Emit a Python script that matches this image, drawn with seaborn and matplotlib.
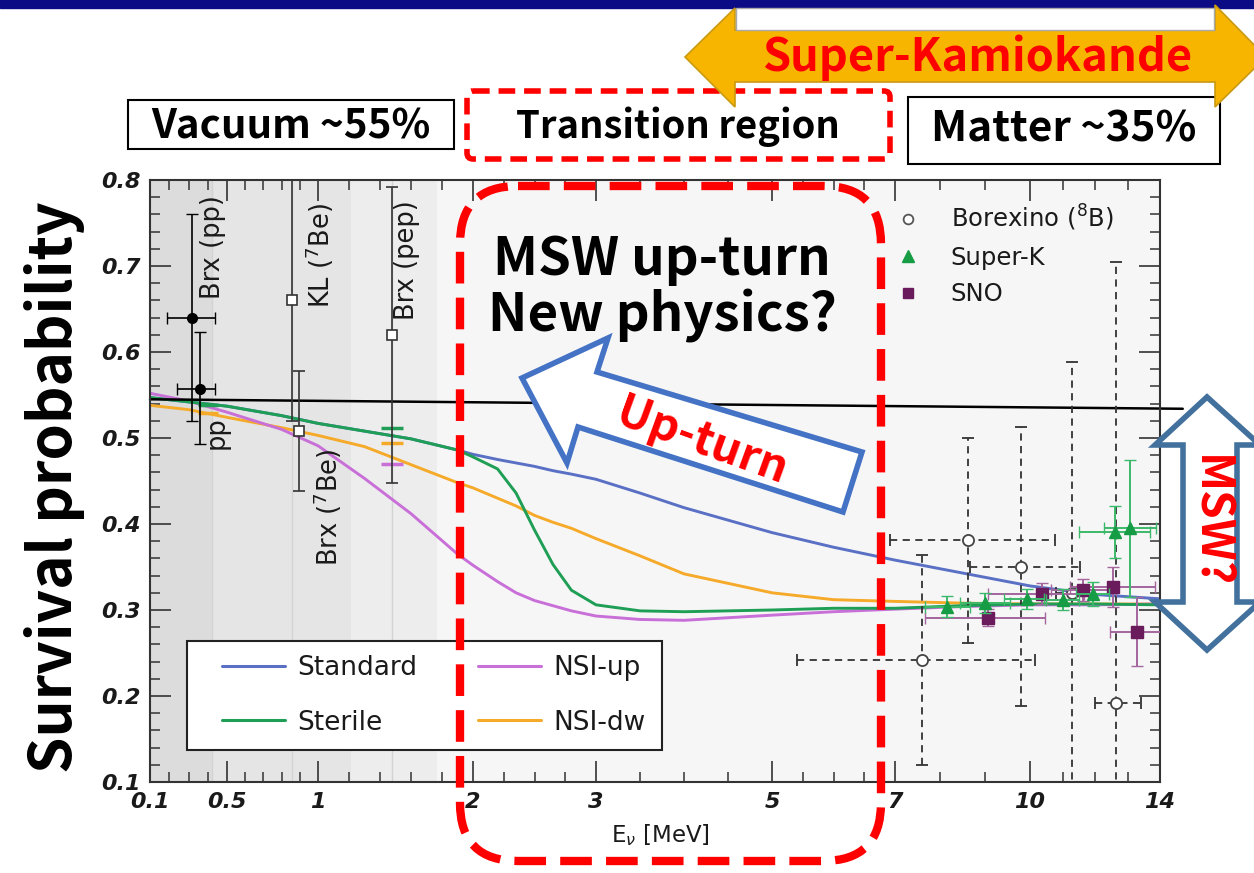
import numpy as np
import pandas as pd
import matplotlib
matplotlib.use("Agg")
import matplotlib.pyplot as plt
import seaborn as sns
from matplotlib.patches import Rectangle, FancyBboxPatch, Polygon
from matplotlib.lines import Line2D
from matplotlib.transforms import Affine2D

# ------------------------------------------------------------------ data
energy = [0.1, 0.3, 0.5, 0.8, 1.0, 1.3, 1.6, 1.9, 2.0, 2.2, 2.35, 2.5, 2.65,
          2.8, 3.0, 3.5, 4.0, 5.0, 6.0, 7.0, 8.5, 10.0, 12.0, 14.0]
standard = [0.547, 0.542, 0.537, 0.526, 0.517, 0.508, 0.499, 0.486, 0.481, 0.475,
            0.471, 0.467, 0.462, 0.458, 0.452, 0.436, 0.419, 0.390, 0.373, 0.358,
            0.343, 0.328, 0.318, 0.313]
sterile = [0.547, 0.542, 0.537, 0.526, 0.517, 0.508, 0.499, 0.486, 0.478, 0.464,
           0.436, 0.393, 0.353, 0.323, 0.306, 0.299, 0.298, 0.300, 0.302, 0.302,
           0.305, 0.307, 0.307, 0.306]
nsi_up = [0.552, 0.543, 0.530, 0.510, 0.491, 0.453, 0.412, 0.365, 0.352, 0.333,
          0.320, 0.311, 0.305, 0.299, 0.293, 0.289, 0.288, 0.294, 0.298, 0.301,
          0.304, 0.306, 0.306, 0.307]
nsi_dw = [0.538, 0.533, 0.524, 0.512, 0.503, 0.490, 0.469, 0.448, 0.442, 0.430,
          0.421, 0.410, 0.402, 0.395, 0.383, 0.363, 0.342, 0.320, 0.312, 0.310,
          0.308, 0.307, 0.307, 0.307]
models = ["Standard", "Sterile", "NSI-up", "NSI-dw"]

vacuum_E = [0.1, 14.7]
vacuum_P = [0.545, 0.534]

# Borexino pp (filled black)
pp_E = [0.32, 0.36]
pp_P = [0.640, 0.557]
pp_Elo = [0.19, 0.24]
pp_Ehi = [0.44, 0.44]
pp_Plo = [0.520, 0.493]
pp_Phi = [0.761, 0.623]

# open squares: KL(7Be), Brx(7Be), Brx(pep)
sq_E = [0.855, 0.895, 1.48]
sq_P = [0.660, 0.508, 0.620]
sq_Plo = [0.520, 0.438, 0.448]
sq_Phi = [0.820, 0.578, 0.792]

# model predictions at pp and pep
pp_pred_E = 0.40
pp_pred = {"Sterile": 0.538, "NSI-dw": 0.529}
pep_pred_E = 1.48
pep_pred = {"Sterile": 0.512, "NSI-dw": 0.494, "NSI-up": 0.470}

# Borexino 8B
b8_E = [7.59, 8.63, 9.80, 11.30, 12.65]
b8_P = [0.242, 0.381, 0.350, 0.320, 0.192]
b8_Elo = [5.41, 6.92, 8.67, 10.80, 12.00]
b8_Ehi = [10.15, 10.77, 11.54, 11.80, 13.40]
b8_Plo = [0.120, 0.262, 0.188, 0.000, 0.000]
b8_Phi = [0.364, 0.500, 0.513, 0.588, 0.705]

# Super-K
sk_E = [8.16, 9.00, 9.93, 11.00, 11.93, 12.60, 13.08]
sk_P = [0.304, 0.308, 0.313, 0.312, 0.319, 0.391, 0.395]
sk_Eerr = [0.50, 0.55, 0.50, 0.50, 0.50, 1.10, 0.80]
sk_Perr = [0.012, 0.012, 0.012, 0.012, 0.014, 0.030, 0.080]

# SNO
sno_E = [9.07, 10.36, 11.64, 12.54, 13.30]
sno_P = [0.291, 0.319, 0.323, 0.327, 0.275]
sno_Eerr = [1.40, 1.30, 1.00, 1.30, 0.85]
sno_Perr = [0.010, 0.012, 0.013, 0.023, 0.040]

x_ticks = [0.1, 0.5, 1, 2, 3, 5, 7, 10, 14]
x_ticklabels = ["0.1", "0.5", "1", "2", "3", "5", "7", "10", "14"]
x_minor = [0.2, 0.3, 0.4, 0.6, 0.7, 0.8, 0.9, 1.2, 1.4, 1.6, 1.8, 2.25, 2.5, 2.75,
           3.5, 4, 4.5, 5.5, 6, 6.5, 8, 9, 11, 12, 13]
y_ticks = [0.1, 0.2, 0.3, 0.4, 0.5, 0.6, 0.7, 0.8]

# ------------------------------------------------------------------ style
sns.set_theme(style="ticks")
plt.rcParams["font.family"] = ["DejaVu Sans"]
plt.rcParams["mathtext.fontset"] = "dejavusans"

C_STD = "#5a70c4"
C_STER = "#1f9e55"
C_UP = "#c86fd8"
C_DW = "#f5aa2a"
palette = {"Standard": C_STD, "Sterile": C_STER, "NSI-up": C_UP, "NSI-dw": C_DW}
RED = "#ff0000"
SLIDE = "Noto Sans CJK KR"

fig = plt.figure(figsize=(12.54, 8.73), dpi=100)
fig.patch.set_facecolor("white")
# pixel transform (origin top-left of the image)
T = Affine2D().scale(1 / 1254, -1 / 873).translate(0, 1) + fig.transFigure

ax = fig.add_axes([150 / 1254, 91 / 873, 1010 / 1254, 602 / 873])
ax.set_facecolor("#f7f6f7")

# custom non-uniform energy axis
E_KNOTS = np.array(x_ticks, float)
PX_KNOTS = np.array([0, 77, 168, 323, 446, 622, 745, 880, 1010], float)


def _pw(x, xs, ys):
    x = np.asarray(x, float)
    y = np.interp(x, xs, ys)
    s0 = (ys[1] - ys[0]) / (xs[1] - xs[0])
    s1 = (ys[-1] - ys[-2]) / (xs[-1] - xs[-2])
    y = np.where(x < xs[0], ys[0] + (x - xs[0]) * s0, y)
    y = np.where(x > xs[-1], ys[-1] + (x - xs[-1]) * s1, y)
    return y


ax.set_xscale("function", functions=(lambda x: _pw(x, E_KNOTS, PX_KNOTS),
                                     lambda p: _pw(p, PX_KNOTS, E_KNOTS)))
ax.set_xlim(0.1, 14)
ax.set_ylim(0.1, 0.8)

# background bands
ax.axvspan(0.1, 0.42, color="#dcdcdc", lw=0, zorder=0)
ax.axvspan(0.42, 1.21, color="#e6e5e6", lw=0, zorder=0)
ax.axvspan(1.21, 1.77, color="#eeedee", lw=0, zorder=0)
for e in [0.42, sq_E[0], pep_pred_E]:
    ax.axvline(e, color="#d3d3d3", lw=1, zorder=0.5)

# theory curves
df = pd.DataFrame({
    "E": energy * 4,
    "P": standard + sterile + nsi_up + nsi_dw,
    "model": sum([[m] * len(energy) for m in models], []),
})
sns.lineplot(data=df, x="E", y="P", hue="model",
             hue_order=["Standard", "NSI-dw", "NSI-up", "Sterile"],
             palette=palette, estimator=None, sort=False, lw=2.1,
             legend=False, ax=ax, zorder=2)

ax.plot(vacuum_E, vacuum_P, color="black", lw=1.8, clip_on=False, zorder=2.5)

# model predictions at pp / pep
for m, v in pp_pred.items():
    ax.plot([pp_pred_E], [v], marker="_", ms=14, mew=2.5, color=palette[m], zorder=3)
for m, v in pep_pred.items():
    ax.plot([pep_pred_E], [v], marker="_", ms=16, mew=2.5, color=palette[m], zorder=3)

# Borexino pp points
pp_E_a = np.array(pp_E); pp_P_a = np.array(pp_P)
ax.errorbar(pp_E, pp_P,
            xerr=[pp_E_a - np.array(pp_Elo), np.array(pp_Ehi) - pp_E_a],
            yerr=[pp_P_a - np.array(pp_Plo), np.array(pp_Phi) - pp_P_a],
            fmt="o", color="black", ms=7, elinewidth=1.2, capsize=4, zorder=4)
# open squares
sq_P_a = np.array(sq_P)
ax.errorbar(sq_E, sq_P,
            yerr=[sq_P_a - np.array(sq_Plo), np.array(sq_Phi) - sq_P_a],
            fmt="s", mfc="white", mec="#333333", mew=1.2, ms=6.5, ecolor="#333333",
            elinewidth=1.2, capsize=4, zorder=4)

# Borexino 8B (dashed)
b8E = np.array(b8_E); b8P = np.array(b8_P)
eb = ax.errorbar(b8_E, b8_P,
                 xerr=[b8E - np.array(b8_Elo), np.array(b8_Ehi) - b8E],
                 yerr=[b8P - np.array(b8_Plo), np.array(b8_Phi) - b8P],
                 fmt="o", mfc="white", mec="#444444", mew=1.3, ms=8,
                 ecolor="#333333", elinewidth=1.3, capsize=4, zorder=3)
for lc in eb.lines[2]:
    lc.set_linestyle((0, (4, 3)))

# SNO
ax.errorbar(sno_E, sno_P, xerr=sno_Eerr, yerr=sno_Perr, fmt="s",
            color="#6a1b5c", ecolor="#a3669d", ms=8, elinewidth=1.4,
            capsize=4, zorder=4)
# Super-K
ax.errorbar(sk_E, sk_P, xerr=sk_Eerr, yerr=sk_Perr, fmt="^",
            color="#169c45", ecolor="#3cb96a", ms=9, elinewidth=1.4,
            capsize=4, zorder=4.2)

# axes styling
ax.set_xticks(x_ticks)
ax.set_xticklabels(x_ticklabels)
ax.set_xticks(x_minor, minor=True)
ax.set_xticklabels([], minor=True)
ax.set_yticks(y_ticks)
ax.set_yticklabels([f"{v:.1f}" for v in y_ticks])
ax.set_yticks(np.round(np.arange(0.1, 0.801, 0.02), 2), minor=True)
ax.tick_params(which="major", direction="in", length=15, width=1.2,
               top=True, right=True, color="#333333", pad=7)
ax.tick_params(which="minor", direction="in", length=7, width=1.1,
               top=True, right=True, color="#333333")
for lab in ax.get_xticklabels() + ax.get_yticklabels():
    lab.set_fontsize(16)
    lab.set_fontstyle("italic")
    lab.set_fontweight("bold")
    lab.set_color("#1a1a1a")
for s in ax.spines.values():
    s.set_linewidth(1.5)
    s.set_color("#333333")
ax.set_ylabel("")
ax.set_xlabel(r"E$_\nu$ [MeV]", fontsize=16.5, color="#1a1a1a")
ax.xaxis.set_label_coords(0.505, -0.088)
ax.xaxis.label.set_va("center")

# rotated labels
rot_kw = dict(transform=T, rotation=90, ha="center", va="center", fontsize=18.5,
              color="#1a1a1a", zorder=5)
ax.text(213, 247, "Brx (pp)", **rot_kw)
ax.text(217, 433, "pp", **rot_kw)
ax.text(320, 255, r"KL ($^7$Be)", **rot_kw)
ax.text(328, 507, r"Brx ($^7$Be)", **rot_kw)
ax.text(407, 260, "Brx (pep)", **rot_kw)

# legend 1 (curves) with its own box
ax.add_patch(Rectangle((187, 641), 475, 109, transform=T, fc="white", ec="#222222",
                       lw=1.5, zorder=4.5, clip_on=False))
h1 = [Line2D([], [], color=palette[m], lw=2.2) for m in models]
leg1 = ax.legend(h1, models, ncol=2, loc="upper left",
                 bbox_to_anchor=((222 - 150) / 1010, (782 - 655) / 602),
                 frameon=False, fontsize=19, handlelength=2.4, handletextpad=0.45,
                 columnspacing=2.3, labelspacing=1.08, borderpad=0, borderaxespad=0)
leg1.set_zorder(5)
ax.add_artist(leg1)

# legend 2 (data)
h2 = [Line2D([], [], ls="", marker="o", mfc="white", mec="#555555", mew=1.3, ms=7),
      Line2D([], [], ls="", marker="^", color="#169c45", ms=9),
      Line2D([], [], ls="", marker="s", color="#6a1b5c", ms=7)]
leg2 = ax.legend(h2, [r"Borexino ($^8$B)", "Super-K", "SNO"], loc="upper left",
                 bbox_to_anchor=((884 - 150) / 1010, (782 - 203) / 602),
                 frameon=False, fontsize=17.5, handlelength=2.0, handletextpad=0.75,
                 labelspacing=0.52, borderpad=0, borderaxespad=0)
for t in leg1.get_texts() + leg2.get_texts():
    t.set_color("#1a1a1a")

# ------------------------------------------------------------------ slide annotations
fig.add_artist(Rectangle((0, 0), 1254, 8, transform=T, color="#0b0b86", zorder=1))

# Super-Kamiokande double arrow
fig.add_artist(Polygon([(685, 57), (735, 8), (735, 30), (1215, 30), (1215, 5),
                        (1266, 57), (1215, 107), (1215, 82), (735, 82), (735, 107)],
                       closed=True, transform=T, fc="#f7b500", ec="#c99a10", lw=1.2,
                       zorder=2))
fig.add_artist(Rectangle((736, 8), 478, 22, transform=T, fc="white", ec="#aaaaaa",
                         lw=1.0, zorder=2.1))
fig.text(977, 58, "Super-Kamiokande", transform=T, ha="center", va="center",
         fontsize=32.5, fontweight="bold", color=RED, family=SLIDE, zorder=3)

# region boxes
fig.add_artist(Rectangle((128, 100), 326, 49, transform=T, fc="white", ec="black",
                         lw=1.5, zorder=1.5))
fig.text(291, 127, "Vacuum ~55%", transform=T, ha="center", va="center",
         fontsize=29, fontweight="bold", color="black", family=SLIDE, zorder=3)
fig.add_artist(FancyBboxPatch((467, 91), 423, 68, boxstyle="round,pad=0,rounding_size=6",
                              transform=T, fc="white", ec=RED, lw=4,
                              ls=(0, (3.0, 1.6)), zorder=1.6))
fig.text(678, 127, "Transition region", transform=T, ha="center", va="center",
         fontsize=27.5, fontweight="bold", color="black", family=SLIDE, zorder=3)
fig.add_artist(Rectangle((908, 97), 312, 67, transform=T, fc="white", ec="black",
                         lw=1.5, zorder=1.5))
fig.text(1064, 130, "Matter ~35%", transform=T, ha="center", va="center",
         fontsize=30.5, fontweight="bold", color="black", family=SLIDE, zorder=3)

# y label
fig.text(55, 487, "Survival probability", transform=T, rotation=90, ha="center",
         va="center", fontsize=42, fontweight="bold", color="black", family=SLIDE)

# MSW text in dashed rounded box
fig.text(662, 288, "MSW up-turn\nNew physics?", transform=T, ha="center", va="center",
         fontsize=38, fontweight="bold", color="black", family=SLIDE,
         linespacing=1.05, zorder=3)

# Up-turn arrow
fig.add_artist(Polygon([(522, 378), (608, 338), (597, 372), (862, 452), (843, 512),
                        (578, 427), (567, 463)], closed=True, transform=T, fc="white",
                       ec="#4472c4", lw=4, joinstyle="miter", zorder=2))
fig.text(702, 442, "Up-turn", transform=T, rotation=-20, ha="center", va="center",
         fontsize=33, fontweight="bold", color=RED, family=SLIDE, zorder=3)

# MSW? vertical double arrow
fig.add_artist(Polygon([(1207, 397), (1260, 445), (1237, 445), (1237, 602),
                        (1260, 602), (1207, 650), (1155, 602), (1183, 602),
                        (1183, 445), (1155, 445)], closed=True, transform=T,
                       fc="white", ec="#41719c", lw=4, joinstyle="miter", zorder=2))
fig.text(1210, 522, "MSW?", transform=T, rotation=-90, ha="center", va="center",
         fontsize=33, fontweight="bold", color=RED, family=SLIDE, zorder=3)

# big red dashed rounded box
fig.add_artist(FancyBboxPatch((460, 186), 421, 675,
                              boxstyle="round,pad=0,rounding_size=58",
                              transform=T, fill=False, ec=RED, lw=6,
                              ls=(0, (3.8, 1.7)), zorder=4))

fig.savefig("out.png", dpi=100, facecolor="white")
